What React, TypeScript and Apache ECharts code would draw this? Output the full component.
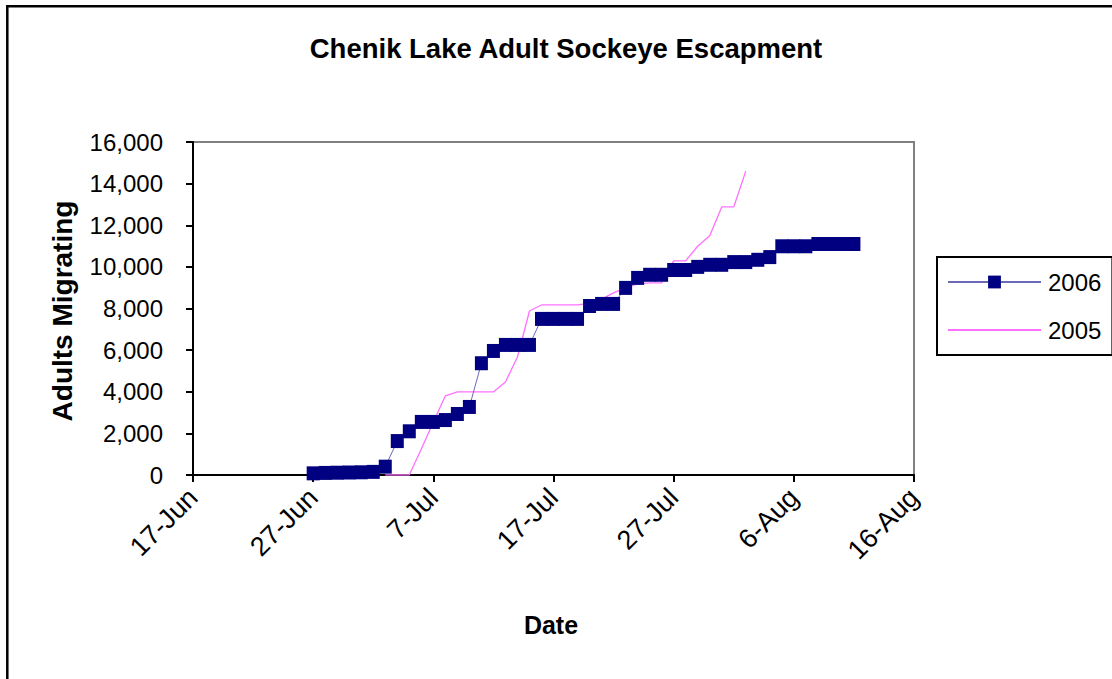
import React, { useEffect, useRef } from "react";
import * as echarts from "echarts";

const FONT = "'Liberation Sans', Arial, sans-serif";

const TITLE = "Chenik Lake Adult Sockeye Escapment";
const X_NAME = "Date";
const Y_NAME = "Adults Migrating";

// x axis: days counted from 17-Jun, ticks every 10 days
const AXIS_START = "06-17";
const X_TICK_LABELS = ["17-Jun", "27-Jun", "7-Jul", "17-Jul", "27-Jul", "6-Aug", "16-Aug"];
const Y_TICK_LABELS = ["0", "2,000", "4,000", "6,000", "8,000", "10,000", "12,000", "14,000", "16,000"];

const SERIES_2006_NAME = "2006";
const DATES_2006 = [
  "06-27", "06-28", "06-29", "06-30",
  "07-01", "07-02", "07-03", "07-04", "07-05", "07-06", "07-07", "07-08", "07-09", "07-10",
  "07-11", "07-12", "07-13", "07-14", "07-15", "07-16", "07-17", "07-18", "07-19", "07-20",
  "07-21", "07-22", "07-23", "07-24", "07-25", "07-26", "07-27", "07-28", "07-29", "07-30",
  "07-31", "08-01", "08-02", "08-03", "08-04", "08-05", "08-06", "08-07", "08-08", "08-09",
  "08-10", "08-11",
];
const VALUES_2006 = [
  80, 100, 110, 120,
  130, 150, 400, 1630, 2100, 2550, 2550, 2640, 2930, 3270,
  5370, 5960, 6250, 6250, 6250, 7500, 7500, 7500, 7500, 8120,
  8220, 8220, 8990, 9470, 9620, 9620, 9850, 9850, 10000, 10100,
  10100, 10230, 10230, 10340, 10470, 10990, 10990, 10990, 11100, 11100,
  11100, 11100,
];

const SERIES_2005_NAME = "2005";
const DATES_2005 = [
  "07-03", "07-04", "07-05", "07-06", "07-07", "07-08", "07-09", "07-10",
  "07-11", "07-12", "07-13", "07-14", "07-15", "07-16", "07-17", "07-18", "07-19", "07-20",
  "07-21", "07-22", "07-23", "07-24", "07-25", "07-26", "07-27", "07-28", "07-29", "07-30",
  "07-31", "08-01", "08-02",
];
const VALUES_2005 = [
  0, 0, 0, 1250, 2550, 3800, 3990, 3990,
  3990, 3990, 4470, 5670, 7880, 8170, 8170, 8170, 8170, 8250,
  8450, 8750, 9000, 9180, 9230, 9230, 10290, 10290, 10990, 11490,
  12880, 12880, 14600,
];

function dayOffset(md: string): number {
  const [m, d] = md.split("-").map(Number);
  const [sm, sd] = AXIS_START.split("-").map(Number);
  return (Date.UTC(2001, m - 1, d) - Date.UTC(2001, sm - 1, sd)) / 86400000;
}

export default function App() {
  const ref = useRef<HTMLDivElement>(null);

  useEffect(() => {
    if (!ref.current) return;
    const chart = echarts.init(ref.current, undefined, { renderer: "svg" });

    const data2006 = DATES_2006.map((d, i) => [dayOffset(d), VALUES_2006[i]]);
    const data2005 = DATES_2005.map((d, i) => [dayOffset(d), VALUES_2005[i]]);

    chart.setOption({
      animation: false,
      backgroundColor: "#fff",
      textStyle: { fontFamily: FONT },
      grid: {
        left: 193,
        top: 142,
        width: 721,
        height: 333,
        show: true,
        borderColor: "#808080",
        borderWidth: 2,
        backgroundColor: "#fff",
      },
      legend: {
        orient: "vertical",
        left: 937,
        top: 257,
        data: [
          { name: SERIES_2006_NAME },
          { name: SERIES_2005_NAME, itemStyle: { color: "rgba(0,0,0,0)", borderWidth: 0, opacity: 0 } },
        ],
        itemWidth: 93,
        itemHeight: 16,
        itemGap: 24,
        padding: [13, 11, 13, 10],
        borderColor: "#000",
        borderWidth: 2,
        backgroundColor: "#fff",
        textStyle: { fontSize: 24, color: "#000", fontFamily: FONT, padding: [0, 0, 0, 2] },
      },
      xAxis: {
        type: "value",
        min: 0,
        max: 60,
        interval: 10,
        axisLine: { show: true, onZero: false, lineStyle: { color: "#000", width: 2 } },
        axisTick: { show: true, length: 7, lineStyle: { color: "#000", width: 2 } },
        splitLine: { show: false },
        axisLabel: {
          rotate: 45,
          margin: 18,
          fontSize: 27,
          color: "#000",
          fontFamily: FONT,
          showMinLabel: true,
          showMaxLabel: true,
          formatter: (v: number) => X_TICK_LABELS[Math.round(v / 10)] ?? "",
        },
      },
      yAxis: {
        type: "value",
        min: 0,
        max: 16000,
        interval: 2000,
        axisLine: { show: true, lineStyle: { color: "#000", width: 2 } },
        axisTick: { show: true, length: 7, lineStyle: { color: "#000", width: 2 } },
        splitLine: { show: false },
        axisLabel: {
          margin: 30,
          fontSize: 24,
          color: "#000",
          fontFamily: FONT,
          formatter: (v: number) => Y_TICK_LABELS[Math.round(v / 2000)] ?? "",
        },
      },
      series: [
        {
          name: SERIES_2006_NAME,
          type: "line",
          data: data2006,
          symbol: "rect",
          symbolSize: [13, 14],
          itemStyle: { color: "#000080" },
          lineStyle: { color: "#6a6ab8", width: 1 },
          z: 3,
        },
        {
          name: SERIES_2005_NAME,
          type: "line",
          data: data2005,
          symbol: "none",
          itemStyle: { color: "#ff70ff" },
          lineStyle: { color: "#ff70ff", width: 1.3 },
          z: 2,
        },
      ],
      graphic: [
        {
          type: "rect",
          shape: { x: 7.3, y: 6.2, width: 1300, height: 900 },
          style: { fill: "none", stroke: "#000", lineWidth: 2.5 },
          silent: true,
        },
        {
          type: "text",
          x: 566,
          y: 48,
          style: {
            text: TITLE,
            font: `bold 27.5px ${FONT}`,
            fill: "#000",
            textAlign: "center",
            textVerticalAlign: "middle",
          },
        },
        {
          type: "text",
          x: 551,
          y: 625,
          style: {
            text: X_NAME,
            font: `bold 25px ${FONT}`,
            fill: "#000",
            textAlign: "center",
            textVerticalAlign: "middle",
          },
        },
        {
          type: "text",
          x: 62,
          y: 311,
          rotation: Math.PI / 2,
          style: {
            text: Y_NAME,
            font: `bold 28px ${FONT}`,
            fill: "#000",
            textAlign: "center",
            textVerticalAlign: "middle",
          },
        },
      ],
    });

    return () => chart.dispose();
  }, []);

  return (
    <div
      ref={ref}
      style={{ position: "fixed", left: 0, top: 0, width: 1112, height: 679, background: "#fff" }}
    />
  );
}
